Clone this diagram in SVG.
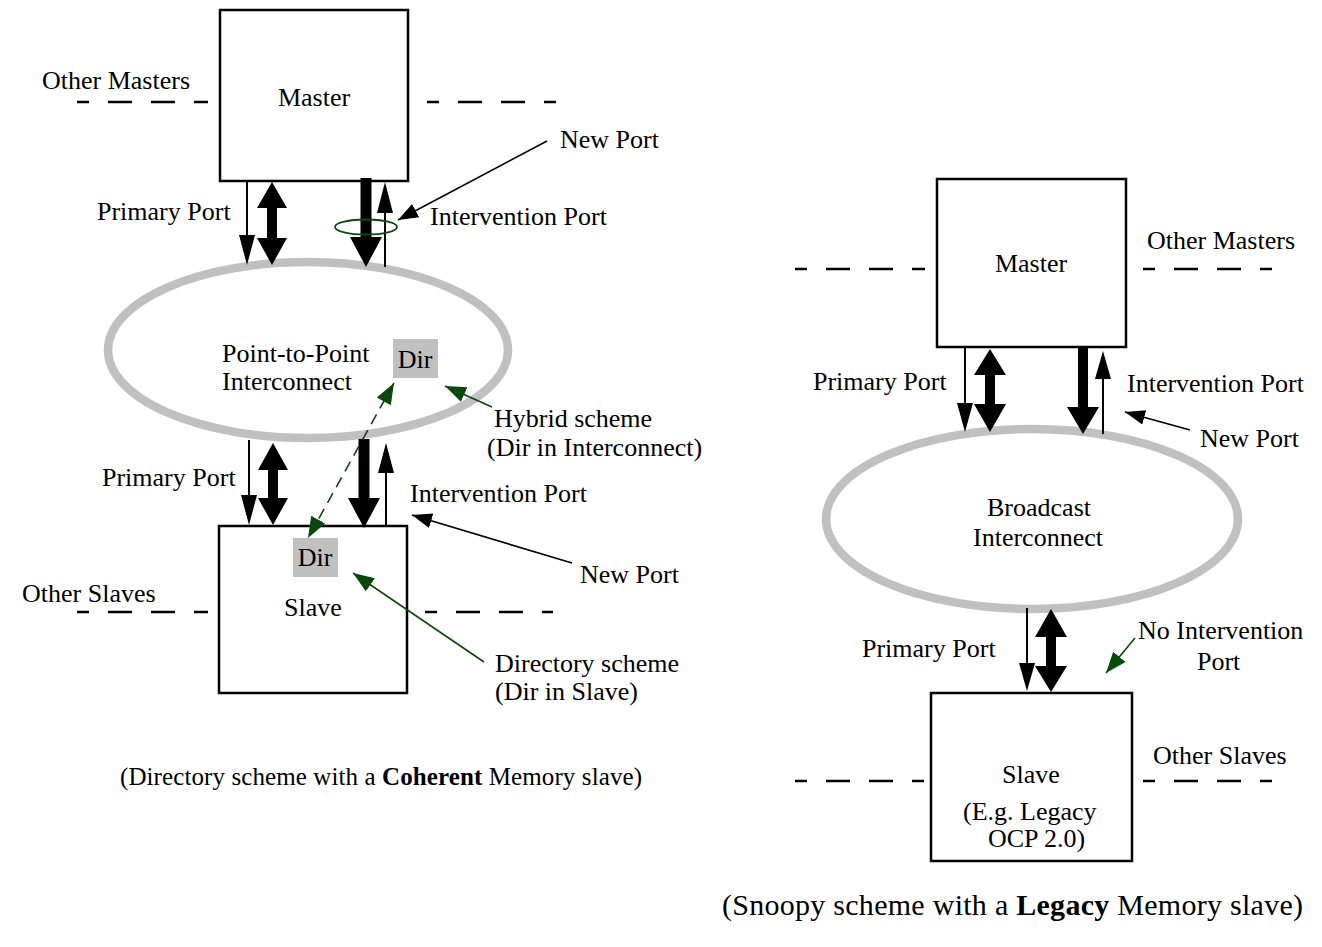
<svg xmlns="http://www.w3.org/2000/svg" width="1322" height="947" viewBox="0 0 1322 947">
  <style>
    text { font-family: "Liberation Serif", "Times New Roman", serif; font-size: 26px; fill: #000; }
    .mid { text-anchor: middle; }
    .cap-left { font-size: 25px; }
    .cap-right { font-size: 30px; }
    .box { fill: #fff; stroke: #000; stroke-width: 2.5; }
    .dash { stroke: #000; stroke-width: 2.5; stroke-dasharray: 24 19; stroke-dashoffset: 12; fill: none; }
    .ring { fill: none; stroke: #c0c0c0; stroke-width: 8.5; }
    .dir { fill: #c0c0c0; }
    .solid { fill: #000; stroke: none; }
    .thin { stroke: #000; stroke-width: 2; fill: none; }
    .ptr { stroke: #000; stroke-width: 1.6; fill: none; marker-end: url(#tipBlack); }
    .gptr { stroke: #0b480b; stroke-width: 1.6; fill: none; marker-end: url(#tipGreen); }
    .gdash { stroke: #0b480b; stroke-width: 1.6; fill: none; stroke-dasharray: 11 7; marker-start: url(#tipGreenStart); marker-end: url(#tipGreen); }
  </style>
  <defs>
    <marker id="tipBlack" markerUnits="userSpaceOnUse" markerWidth="22" markerHeight="18" refX="20" refY="9" orient="auto">
      <path d="M0,1.5 L20,9 L0,16.5 Z" fill="#000"/>
    </marker>
    <marker id="tipGreen" markerUnits="userSpaceOnUse" markerWidth="22" markerHeight="18" refX="21" refY="9" orient="auto">
      <path d="M0,1 L21,9 L0,17 Z" fill="#0b480b"/>
    </marker>
    <marker id="tipGreenStart" markerUnits="userSpaceOnUse" markerWidth="22" markerHeight="18" refX="0" refY="9" orient="auto">
      <path d="M21,1 L0,9 L21,17 Z" fill="#0b480b"/>
    </marker>
  </defs>

  <!-- ===== Directory scheme (left) ===== -->
  <g id="p2p-interconnect">
    <ellipse class="ring" cx="308" cy="350" rx="200" ry="88"/>
    <text x="222" y="362">Point-to-Point</text>
    <text x="222" y="390">Interconnect</text>
  </g>

  <g id="dir-interconnect">
    <rect class="dir" x="393" y="339" width="45" height="39"/>
    <text class="mid" x="415" y="368">Dir</text>
  </g>

  <g id="master-left">
    <rect class="box" x="220" y="10" width="188" height="171"/>
    <text class="mid" x="314" y="106">Master</text>
  </g>

  <g id="slave-left">
    <rect class="box" x="219" y="526" width="188" height="167"/>
    <rect class="dir" x="293" y="538" width="45" height="39"/>
    <text class="mid" x="315" y="566">Dir</text>
    <text class="mid" x="313" y="616">Slave</text>
  </g>

  <!-- ===== Snoopy scheme (right) ===== -->
  <g id="broadcast-interconnect">
    <ellipse class="ring" cx="1032" cy="519" rx="206" ry="90"/>
    <text class="mid" x="1039" y="516">Broadcast</text>
    <text class="mid" x="1038" y="546">Interconnect</text>
  </g>

  <g id="master-right">
    <rect class="box" x="937" y="179" width="189" height="168"/>
    <text class="mid" x="1031" y="272">Master</text>
  </g>

  <g id="slave-right">
    <rect class="box" x="931" y="693" width="201" height="168"/>
    <text class="mid" x="1031" y="783">Slave</text>
    <text x="963" y="820">(E.g. Legacy</text>
    <text x="988" y="847">OCP 2.0)</text>
  </g>

  <!-- ===== Connectors ===== -->
  <g id="connectors">
    <!-- other masters / slaves -->
    <line class="dash" x1="77" y1="102" x2="208" y2="102"/>
    <line class="dash" x1="427" y1="102" x2="556" y2="102"/>
    <line class="dash" x1="77" y1="612" x2="208" y2="612"/>
    <line class="dash" x1="425" y1="612" x2="553" y2="612"/>
    <line class="dash" x1="795" y1="269" x2="925" y2="269"/>
    <line class="dash" x1="1143" y1="269" x2="1272" y2="269"/>
    <line class="dash" x1="795" y1="781" x2="924" y2="781"/>
    <line class="dash" x1="1143" y1="781" x2="1272" y2="781"/>

    <!-- left master <-> point-to-point interconnect -->
    <line class="thin" x1="247" y1="181" x2="247" y2="240"/>
    <polygon class="solid" points="239,235 255,235 247,265"/>
    <polygon class="solid" points="272,182 287,208 277,208 277,238 287,238 272,265 257,238 267,238 267,208 257,208"/>
    <polygon class="solid" points="360.5,178 371.5,178 371.5,237 382,237 366,267 350,237 360.5,237"/>
    <line class="thin" x1="385" y1="267" x2="385" y2="208"/>
    <polygon class="solid" points="377,213 393,213 385,182"/>
    <ellipse cx="366" cy="227" rx="31" ry="7.5" fill="none" stroke="#0b480b" stroke-width="1.8"/>

    <!-- point-to-point interconnect <-> left slave -->
    <line class="thin" x1="249" y1="440" x2="249" y2="500"/>
    <polygon class="solid" points="241,495 257,495 249,525"/>
    <polygon class="solid" points="273,443 288,470 278,470 278,498 288,498 273,525 258,498 268,498 268,470 258,470"/>
    <polygon class="solid" points="358.5,439 369.5,439 369.5,498 380,498 364,528 348,498 358.5,498"/>
    <line class="thin" x1="386" y1="525" x2="386" y2="468"/>
    <polygon class="solid" points="378,473 394,473 386,443"/>

    <!-- right master <-> broadcast interconnect -->
    <line class="thin" x1="965" y1="347" x2="965" y2="408"/>
    <polygon class="solid" points="957,403 973,403 965,432"/>
    <polygon class="solid" points="990,349 1006,375 995,375 995,404 1006,404 990,432 974,404 985,404 985,375 974,375"/>
    <polygon class="solid" points="1078,346 1088,346 1088,407 1099,407 1083,434 1067,407 1078,407"/>
    <line class="thin" x1="1103" y1="434" x2="1103" y2="374"/>
    <polygon class="solid" points="1095,379 1111,379 1103,351"/>

    <!-- broadcast interconnect <-> right slave -->
    <line class="thin" x1="1027" y1="608" x2="1027" y2="668"/>
    <polygon class="solid" points="1019,663 1035,663 1027,691"/>
    <polygon class="solid" points="1051,609 1067,637 1056,637 1056,666 1067,666 1051,692 1035,666 1046,666 1046,637 1035,637"/>

    <!-- label pointers -->
    <line class="ptr" x1="547" y1="141" x2="398" y2="220"/>
    <line class="ptr" x1="572" y1="563" x2="412" y2="515"/>
    <line class="ptr" x1="1190" y1="430" x2="1125" y2="412"/>
    <line class="gptr" x1="492" y1="407" x2="445" y2="386"/>
    <line class="gptr" x1="484" y1="662" x2="353" y2="573"/>
    <line class="gptr" x1="1135" y1="638" x2="1106" y2="673"/>
    <line class="gdash" x1="394" y1="383" x2="308" y2="538"/>
  </g>

  <!-- ===== Labels ===== -->
  <g id="labels">
    <text x="42" y="89">Other Masters</text>
    <text x="560" y="148">New Port</text>
    <text x="97" y="220">Primary Port</text>
    <text x="430" y="225">Intervention Port</text>
    <text x="494" y="427">Hybrid scheme</text>
    <text x="487" y="456">(Dir in Interconnect)</text>
    <text x="102" y="486">Primary Port</text>
    <text x="410" y="502">Intervention Port</text>
    <text x="580" y="583">New Port</text>
    <text x="22" y="602">Other Slaves</text>
    <text x="495" y="672">Directory scheme</text>
    <text x="495" y="700">(Dir in Slave)</text>
    <text class="cap-left" x="120" y="785" textLength="522" lengthAdjust="spacing">(Directory scheme with a <tspan font-weight="bold">Coherent</tspan> Memory slave)</text>

    <text x="1147" y="249">Other Masters</text>
    <text x="813" y="390">Primary Port</text>
    <text x="1127" y="392">Intervention Port</text>
    <text x="1200" y="447">New Port</text>
    <text x="1138" y="639">No Intervention</text>
    <text x="1197" y="670">Port</text>
    <text x="862" y="657">Primary Port</text>
    <text x="1153" y="764">Other Slaves</text>
    <text class="cap-right" x="722" y="915" textLength="581" lengthAdjust="spacing">(Snoopy scheme with a <tspan font-weight="bold">Legacy</tspan> Memory slave)</text>
  </g>
</svg>
